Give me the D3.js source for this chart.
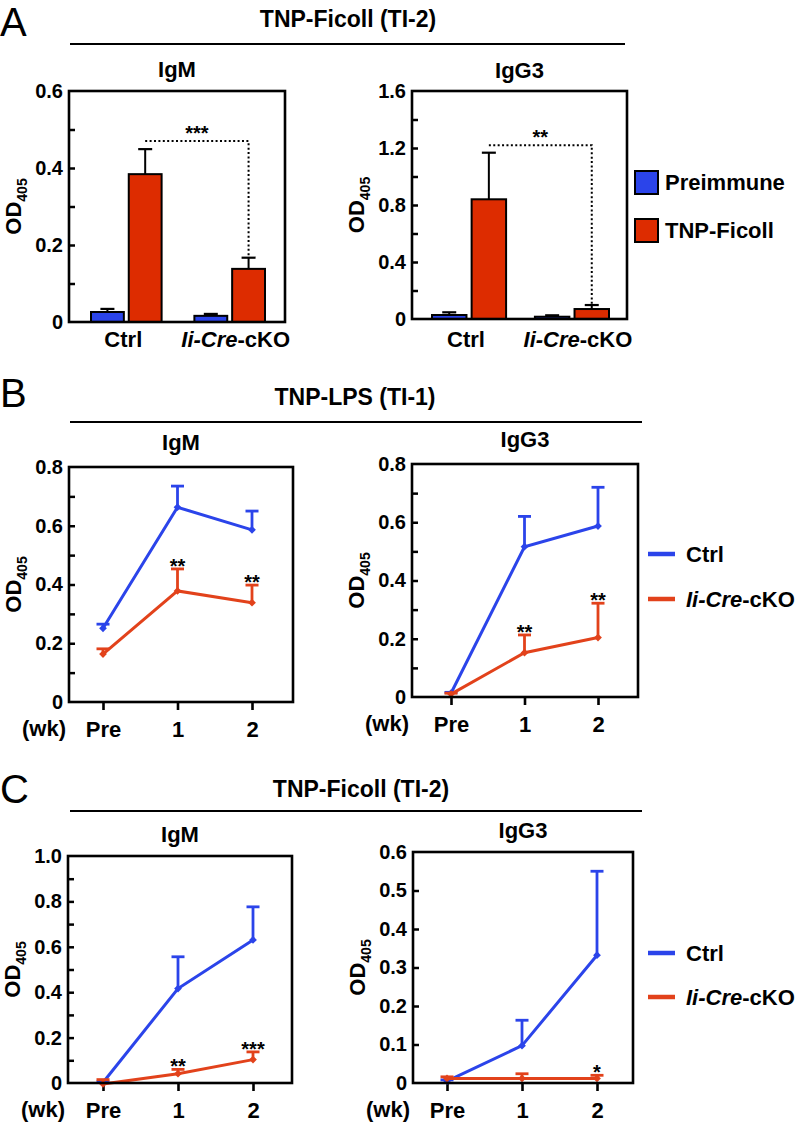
<!DOCTYPE html>
<html><head><meta charset="utf-8">
<script src="https://cdn.jsdelivr.net/npm/d3@7"></script>
<style>
body{margin:0;background:#fff}
svg text{font-family:"Liberation Sans",Arial,Helvetica,sans-serif;font-weight:bold;fill:#000}
</style>
</head><body>
<svg id="c" width="796" height="1124"></svg>
<script>
// ---------------- DATA ----------------
// Panel A : bar charts (TNP-Ficoll, TI-2)
const barGroups = ["Ctrl", "Ii-Cre-cKO"];
const barSeries = ["Preimmune", "TNP-Ficoll"];
const aIgM_pre = [0.026, 0.016];
const aIgM_pre_sem = [0.008, 0.005];
const aIgM_tnp = [0.384, 0.138];
const aIgM_tnp_sem = [0.065, 0.029];
const aIgG3_pre = [0.028, 0.016];
const aIgG3_pre_sem = [0.019, 0.010];
const aIgG3_tnp = [0.84, 0.07];
const aIgG3_tnp_sem = [0.327, 0.028];
const aIgM_ticks = [0, 0.2, 0.4, 0.6];
const aIgG3_ticks = [0, 0.4, 0.8, 1.2, 1.6];
const aSig = ["***", "**"];
const aBracket = [0.47, 1.22];

// Panels B, C : time courses
const weeks = ["Pre", "1", "2"];
const lineSeries = ["Ctrl", "Ii-Cre-cKO"];
// B: TNP-LPS (TI-1)
const bIgM_ctrl = [0.251, 0.663, 0.586];
const bIgM_ctrl_sem = [0.014, 0.072, 0.064];
const bIgM_ko = [0.163, 0.378, 0.338];
const bIgM_ko_sem = [0.018, 0.075, 0.060];
const bIgM_sig = ["", "**", "**"];
const bIgG3_ctrl = [0.013, 0.516, 0.587];
const bIgG3_ctrl_sem = [0.003, 0.104, 0.133];
const bIgG3_ko = [0.010, 0.152, 0.204];
const bIgG3_ko_sem = [0.003, 0.061, 0.118];
const bIgG3_sig = ["", "**", "**"];
const bTicks = [0, 0.2, 0.4, 0.6, 0.8];
// C: TNP-Ficoll (TI-2)
const cIgM_ctrl = [0.002, 0.416, 0.630];
const cIgM_ctrl_sem = [0.003, 0.140, 0.146];
const cIgM_ko = [-0.004, 0.041, 0.103];
const cIgM_ko_sem = [0.019, 0.019, 0.034];
const cIgM_sig = ["", "**", "***"];
const cIgG3_ctrl = [0.005, 0.097, 0.332];
const cIgG3_ctrl_sem = [0.003, 0.066, 0.218];
const cIgG3_ko = [0.012, 0.012, 0.012];
const cIgG3_ko_sem = [0.004, 0.012, 0.008];
const cIgG3_sig = ["", "", "*"];
const cIgM_ticks = [0, 0.2, 0.4, 0.6, 0.8, 1.0];
const cIgG3_ticks = [0, 0.1, 0.2, 0.3, 0.4, 0.5, 0.6];

// ---------------- STYLE ----------------
const BLUE = "#2b44ea", RED_BAR = "#dd2c00", RED_LINE = "#e2421b";
const svg = d3.select("#c");
const fmt = v => Math.abs(v) < 1e-9 ? "0" : d3.format(".1f")(v);

function ckoText(sel, label) {
  if (label.startsWith("Ii-Cre")) {
    sel.append("tspan").attr("font-style", "italic").text("Ii-Cre");
    sel.append("tspan").text(label.slice(6));
  } else sel.text(label);
}

function header(letter, title, ly, ty, lineY, x0, x1, tx) {
  svg.append("text").attr("x", 0).attr("y", ly).attr("font-size", 40)
    .style("font-weight", "normal").text(letter);
  svg.append("text").attr("x", tx).attr("y", ty).attr("text-anchor", "middle")
    .attr("font-size", 23).text(title);
  svg.append("line").attr("x1", x0).attr("x2", x1).attr("y1", lineY).attr("y2", lineY)
    .attr("stroke", "#000").attr("stroke-width", 2);
}

function frameAxes(f, y, max, labels, minorStep, title, titleY) {
  const g = svg.append("g");
  const minor = d3.range(0, max + 1e-9, minorStep).map(v => +v.toFixed(4)).filter(v => v > 1e-9 && v < max - 1e-9);
  g.append("g").attr("transform", `translate(${f.l},0)`)
    .call(d3.axisLeft(y).tickValues(minor).tickSize(-6).tickFormat(""))
    .call(s => s.select(".domain").remove())
    .selectAll("line").attr("stroke", "#000").attr("stroke-width", 2.5);
  g.append("g").attr("transform", `translate(${f.l},0)`)
    .call(d3.axisLeft(y).tickValues(labels).tickSize(0).tickPadding(6).tickFormat(fmt))
    .call(s => s.select(".domain").remove())
    .selectAll("text").attr("font-size", 20).attr("font-family", null);
  g.append("rect").attr("x", f.l).attr("y", f.t).attr("width", f.r - f.l).attr("height", f.b - f.t)
    .attr("fill", "none").attr("stroke", "#000").attr("stroke-width", 2.6);
  g.append("text").attr("x", (f.l + f.r) / 2).attr("y", titleY).attr("text-anchor", "middle")
    .attr("font-size", 22).text(title);
  const od = g.append("text").attr("transform", `translate(${f.l - 48},${(f.t + f.b) / 2}) rotate(-90)`)
    .attr("text-anchor", "middle").attr("font-size", 22);
  od.append("tspan").text("OD");
  od.append("tspan").attr("font-size", 14).attr("dy", 6).text("405");
  return g;
}

function barPanel(f, max, labels, minorStep, title, titleY, pre, preSem, tnp, tnpSem, bandRange, padIn, sig, bracket, labelY) {
  const y = d3.scaleLinear().domain([0, max]).range([f.b, f.t]);
  const x0 = d3.scaleBand().domain(barGroups).range(bandRange).paddingInner(padIn);
  const x1 = d3.scaleBand().domain(barSeries).range([0, x0.bandwidth()]).paddingInner(0.13);
  const g = svg.append("g");
  const rows = barGroups.flatMap((grp, i) => [
    {grp, s: barSeries[0], v: pre[i], e: preSem[i], c: BLUE},
    {grp, s: barSeries[1], v: tnp[i], e: tnpSem[i], c: RED_BAR}
  ]);
  rows.forEach(d => {
    const cx = x0(d.grp) + x1(d.s) + x1.bandwidth() / 2;
    g.append("line").attr("x1", cx).attr("x2", cx).attr("y1", y(d.v)).attr("y2", y(d.v + d.e))
      .attr("stroke", "#000").attr("stroke-width", 2);
    g.append("line").attr("x1", cx - 7).attr("x2", cx + 7).attr("y1", y(d.v + d.e)).attr("y2", y(d.v + d.e))
      .attr("stroke", "#000").attr("stroke-width", 2.2);
  });
  g.selectAll("rect.bar").data(rows).join("rect").attr("class", "bar")
    .attr("x", d => x0(d.grp) + x1(d.s)).attr("width", x1.bandwidth())
    .attr("y", d => y(d.v)).attr("height", d => y(0) - y(d.v))
    .attr("fill", d => d.c).attr("stroke", "#000").attr("stroke-width", 2);
  frameAxes(f, y, max, labels, minorStep, title, titleY);
  // bracket
  const xa = x0(barGroups[0]) + x1(barSeries[1]) + x1.bandwidth() / 2;
  const xb = x0(barGroups[1]) + x1(barSeries[1]) + x1.bandwidth() / 2;
  g.append("path").attr("d", `M${xa},${y(bracket)}H${xb}V${y(tnp[1] + tnpSem[1])}`)
    .attr("fill", "none").attr("stroke", "#000").attr("stroke-width", 2).attr("stroke-dasharray", "2,2.4");
  g.append("text").attr("x", (xa + xb) / 2).attr("y", y(bracket) - 1).attr("text-anchor", "middle")
    .attr("font-size", 20).text(sig);
  barGroups.forEach(grp => {
    const t = g.append("text").attr("x", x0(grp) + x0.bandwidth() / 2 + (grp === "Ctrl" ? -3 : 6))
      .attr("y", labelY).attr("text-anchor", "middle").attr("font-size", 22);
    ckoText(t, grp);
  });
}

function linePanel(f, max, labels, minorStep, title, titleY, xr, ctrl, ctrlSem, ko, koSem, sig) {
  const y = d3.scaleLinear().domain([0, max]).range([f.b, f.t]);
  const x = d3.scalePoint().domain(weeks).range(xr);
  const g = svg.append("g");
  frameAxes(f, y, max, labels, minorStep, title, titleY);
  const xa = g.append("g").attr("transform", `translate(0,${f.b})`)
    .call(d3.axisBottom(x).tickSize(8).tickPadding(11));
  xa.select(".domain").remove();
  xa.selectAll("line").attr("stroke", "#000").attr("stroke-width", 2.6);
  xa.selectAll("text").attr("font-size", 22).attr("font-family", null);
  g.append("text").attr("x", f.l - 3).attr("y", f.b + 34).attr("text-anchor", "end")
    .attr("font-size", 22).text("(wk)");
  const series = [
    {vals: ctrl, sem: ctrlSem, c: BLUE},
    {vals: ko, sem: koSem, c: RED_LINE}
  ];
  const line = d3.line().x((d, i) => x(weeks[i])).y(d => y(d));
  series.forEach(s => {
    s.vals.forEach((v, i) => {
      const cx = x(weeks[i]), top = y(v + s.sem[i]);
      g.append("line").attr("x1", cx).attr("x2", cx).attr("y1", y(v)).attr("y2", top)
        .attr("stroke", s.c).attr("stroke-width", 2.8);
      g.append("line").attr("x1", cx - 6.5).attr("x2", cx + 6.5).attr("y1", top).attr("y2", top)
        .attr("stroke", s.c).attr("stroke-width", 2.8);
    });
    g.append("path").datum(s.vals).attr("d", line).attr("fill", "none")
      .attr("stroke", s.c).attr("stroke-width", 3);
    g.selectAll(null).data(s.vals).join("path")
      .attr("d", d3.symbol(d3.symbolSquare, 30))
      .attr("transform", (d, i) => `translate(${x(weeks[i])},${y(d)}) rotate(45)`)
      .attr("fill", s.c);
  });
  sig.forEach((st, i) => {
    if (!st) return;
    g.append("text").attr("x", x(weeks[i])).attr("y", y(ko[i] + koSem[i]) + 4)
      .attr("text-anchor", "middle").attr("font-size", 20).text(st);
  });
}

function lineLegend(x, yC, yK) {
  [[yC, BLUE, lineSeries[0]], [yK, RED_LINE, lineSeries[1]]].forEach(([yy, c, lab]) => {
    svg.append("line").attr("x1", x).attr("x2", x + 27).attr("y1", yy).attr("y2", yy)
      .attr("stroke", c).attr("stroke-width", 4.5);
    const t = svg.append("text").attr("x", x + 38).attr("y", yy + 8).attr("font-size", 22);
    ckoText(t, lab);
  });
}

// ---------------- PANEL A ----------------
header("A", "TNP-Ficoll (TI-2)", 36, 27, 44, 70, 625, 348);
barPanel({l: 69, r: 285, t: 91, b: 322}, 0.6, aIgM_ticks, 0.1, "IgM", 77,
  aIgM_pre, aIgM_pre_sem, aIgM_tnp, aIgM_tnp_sem, [91, 265], 0.317, aSig[0], aBracket[0], 347);
barPanel({l: 412, r: 627, t: 91, b: 319}, 1.6, aIgG3_ticks, 0.2, "IgG3", 78,
  aIgG3_pre, aIgG3_pre_sem, aIgG3_tnp, aIgG3_tnp_sem, [432, 609], 0.28, aSig[1], aBracket[1], 347);
// legend A
[[171, BLUE, barSeries[0]], [219, RED_BAR, barSeries[1]]].forEach(([yy, c, lab]) => {
  svg.append("rect").attr("x", 635).attr("y", yy).attr("width", 23).attr("height", 23)
    .attr("fill", c).attr("stroke", "#000").attr("stroke-width", 2);
  svg.append("text").attr("x", 665).attr("y", yy + 19).attr("font-size", 22).text(lab);
});

// ---------------- PANEL B ----------------
header("B", "TNP-LPS (TI-1)", 407, 405, 422, 70, 642, 355);
linePanel({l: 69, r: 293, t: 467, b: 702}, 0.8, bTicks, 0.1, "IgM", 450, [103, 252],
  bIgM_ctrl, bIgM_ctrl_sem, bIgM_ko, bIgM_ko_sem, bIgM_sig);
linePanel({l: 412, r: 638, t: 464, b: 697}, 0.8, bTicks, 0.1, "IgG3", 447, [451, 598],
  bIgG3_ctrl, bIgG3_ctrl_sem, bIgG3_ko, bIgG3_ko_sem, bIgG3_sig);
lineLegend(648, 554, 599);

// ---------------- PANEL C ----------------
header("C", "TNP-Ficoll (TI-2)", 803, 797, 811, 70, 642, 361);
linePanel({l: 68, r: 292, t: 856, b: 1083}, 1.0, cIgM_ticks, 0.1, "IgM", 842, [103, 253],
  cIgM_ctrl, cIgM_ctrl_sem, cIgM_ko, cIgM_ko_sem, cIgM_sig);
linePanel({l: 413, r: 633, t: 852, b: 1083}, 0.6, cIgG3_ticks, 0.1, "IgG3", 838, [447, 597],
  cIgG3_ctrl, cIgG3_ctrl_sem, cIgG3_ko, cIgG3_ko_sem, cIgG3_sig);
lineLegend(648, 953, 997);
</script>
</body></html>
